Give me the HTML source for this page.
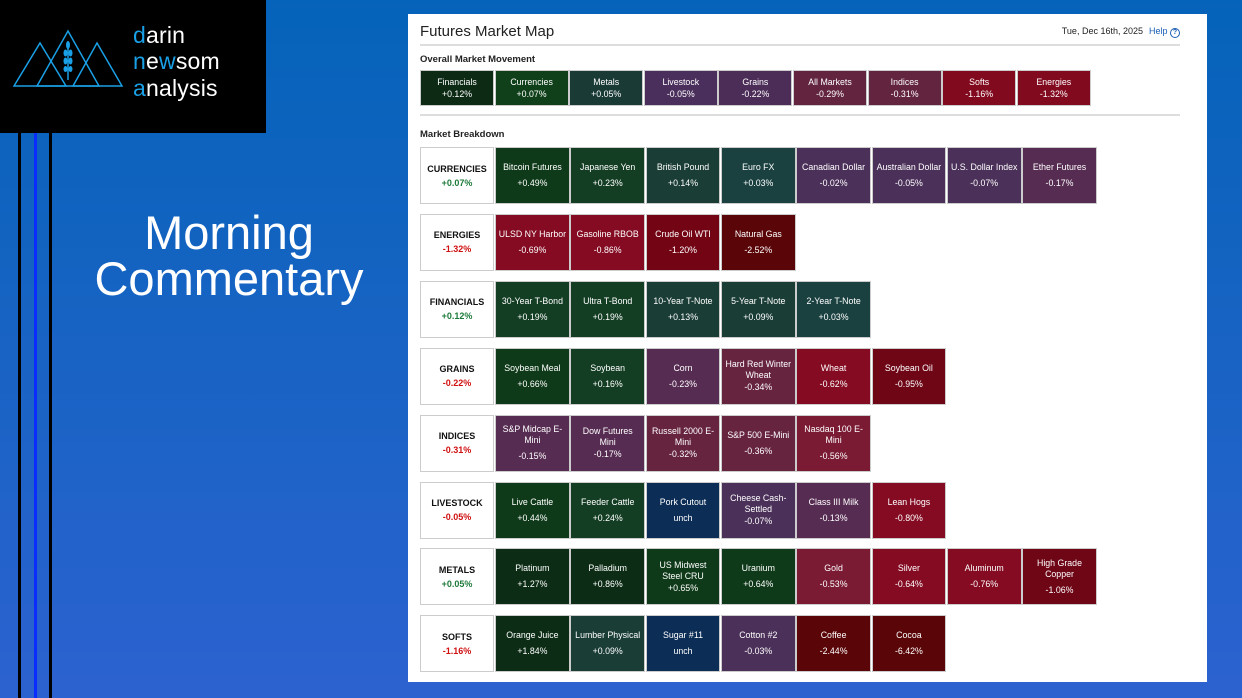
<!DOCTYPE html>
<html><head><meta charset="utf-8">
<style>
*{box-sizing:border-box;margin:0;padding:0}
body{width:1242px;height:698px;overflow:hidden;background:linear-gradient(180deg,#0563b9 0%,#1c63c6 60%,#2c62d0 100%);font-family:"Liberation Sans",sans-serif;position:relative}
#logo{position:absolute;left:0;top:0;width:266px;height:133px;background:#000}
.lt{position:absolute;left:133px;color:#fff;font-size:23px;font-weight:300;letter-spacing:0.2px}
.lt b{color:#1aa0e6;font-weight:300}
.vl{position:absolute;top:133px;height:565px;width:3px}
#mc{position:absolute;left:54px;top:210px;width:350px;text-align:center;color:#fff;font-size:47px;line-height:46px}
#panel{position:absolute;left:408px;top:14px;width:799px;height:668px;background:#fff}
#title{position:absolute;left:12px;top:9px;font-size:15px;color:#222}
#date{position:absolute;right:64px;top:12px;font-size:9px;color:#222;white-space:nowrap}
#help{position:absolute;left:741px;top:12px;font-size:9px;color:#1a5fb4;white-space:nowrap}
.hr{position:absolute;left:12px;width:760px;height:2px;background:#ddd}
.sec{position:absolute;left:12px;font-size:9.5px;font-weight:bold;color:#222}
.tile{position:absolute;border:1px solid #ccc;color:#fff;font-size:8.8px;text-align:center;display:flex;flex-direction:column;justify-content:center;align-items:center;line-height:11px;padding:0 1px}
.lab{position:absolute;border:1px solid #ccc;background:#fff;text-align:center;display:flex;flex-direction:column;justify-content:center;font-size:9px;font-weight:bold;line-height:14px;color:#111}
</style></head><body>
<div id="logo">
<svg width="130" height="133" style="position:absolute;left:0;top:0">
<g fill="none" stroke="#1aa0e6" stroke-width="1.5">
<polygon points="14,86 40,43 66,86"/><polygon points="37,86 68,31 99,86"/><polygon points="73,86 97,43 122,86"/>
<line x1="68" y1="42" x2="68" y2="80"/></g>
<g fill="#1aa0e6"><ellipse cx="68" cy="45" rx="2" ry="4"/><ellipse cx="65.5" cy="53" rx="2" ry="3.5"/><ellipse cx="70.5" cy="53" rx="2" ry="3.5"/><ellipse cx="65.5" cy="61" rx="2" ry="3.5"/><ellipse cx="70.5" cy="61" rx="2" ry="3.5"/><ellipse cx="65.5" cy="69" rx="2" ry="3"/><ellipse cx="70.5" cy="69" rx="2" ry="3"/></g>
</svg>
<div class="lt" style="top:22px"><b>d</b>arin</div>
<div class="lt" style="top:48px"><b>n</b>e<b>w</b>som</div>
<div class="lt" style="top:75px"><b>a</b>nalysis</div>
</div>
<div class="vl" style="left:18px;background:#000"></div>
<div class="vl" style="left:34px;background:#0a2cff"></div>
<div class="vl" style="left:49px;background:#000"></div>
<div id="mc">Morning<br>Commentary</div>
<div id="panel">
<div id="title">Futures Market Map</div>
<div id="date">Tue, Dec 16th, 2025</div>
<div id="help">Help <span style="display:inline-block;width:10px;height:10px;border:1.3px solid #1a5fb4;border-radius:50%;font-size:7px;line-height:8px;text-align:center;font-weight:bold">?</span></div>
<div class="hr" style="top:30px"></div>
<div class="sec" style="top:40px">Overall Market Movement</div>
<div class="hr" style="top:100px"></div>
<div class="sec" style="top:115px">Market Breakdown</div>
</div>
<script>
const overallNames=["Financials","Currencies","Metals","Livestock","Grains","All Markets","Indices","Softs","Energies"];
const overallValues=[0.12,0.07,0.05,-0.05,-0.22,-0.29,-0.31,-1.16,-1.32];
const groupNames=["CURRENCIES","ENERGIES","FINANCIALS","GRAINS","INDICES","LIVESTOCK","METALS","SOFTS"];
const groupValues=[0.07,-1.32,0.12,-0.22,-0.31,-0.05,0.05,-1.16];
const itemNames=[
["Bitcoin Futures","Japanese Yen","British Pound","Euro FX","Canadian Dollar","Australian Dollar","U.S. Dollar Index","Ether Futures"],
["ULSD NY Harbor","Gasoline RBOB","Crude Oil WTI","Natural Gas"],
["30-Year T-Bond","Ultra T-Bond","10-Year T-Note","5-Year T-Note","2-Year T-Note"],
["Soybean Meal","Soybean","Corn","Hard Red Winter Wheat","Wheat","Soybean Oil"],
["S&P Midcap E-Mini","Dow Futures Mini","Russell 2000 E-Mini","S&P 500 E-Mini","Nasdaq 100 E-Mini"],
["Live Cattle","Feeder Cattle","Pork Cutout","Cheese Cash-Settled","Class III Milk","Lean Hogs"],
["Platinum","Palladium","US Midwest Steel CRU","Uranium","Gold","Silver","Aluminum","High Grade Copper"],
["Orange Juice","Lumber Physical","Sugar #11","Cotton #2","Coffee","Cocoa"]];
const itemValues=[
[0.49,0.23,0.14,0.03,-0.02,-0.05,-0.07,-0.17],
[-0.69,-0.86,-1.20,-2.52],
[0.19,0.19,0.13,0.09,0.03],
[0.66,0.16,-0.23,-0.34,-0.62,-0.95],
[-0.15,-0.17,-0.32,-0.36,-0.56],
[0.44,0.24,0,-0.07,-0.13,-0.80],
[1.27,0.86,0.65,0.64,-0.53,-0.64,-0.76,-1.06],
[1.84,0.09,0,-0.03,-2.44,-6.42]];
function color(v){
 if(v===0)return"#0c2d55";
 if(v>0){if(v<=0.05)return"#1a4040";if(v<=0.15)return"#1a3d35";if(v<=0.3)return"#143e24";if(v<=0.7)return"#0f3a19";return"#0c2c15";}
 if(v>=-0.08)return"#4b3059";if(v>=-0.25)return"#572c52";if(v>=-0.4)return"#66243f";if(v>=-0.6)return"#7a1a33";if(v>=-0.9)return"#840b22";if(v>=-1.1)return"#6e0616";if(v>=-1.5)return"#720414";return"#5a0608";}
function colorOverall(v){
 if(v>=0.1)return"#0c2a14";if(v>=0.06)return"#0f401a";if(v>0)return"#1a3a36";
 if(v>=-0.1)return"#4a2f5c";if(v>=-0.25)return"#4c2d58";if(v>=-0.35)return"#63243f";return"#820a1e";}
function fmt(v){return v===0?"unch":(v>0?"+":"")+v.toFixed(2)+"%";}
const panel=document.getElementById('panel');
function tile(x,y,w,h,name,v,bg){
 const d=document.createElement('div');
 d.className='tile';
 
 
 d.style.cssText=`left:${x}px;top:${y}px;width:${w}px;height:${h}px;background:${bg}`;
 const wraps=name.length>17||name==="Dow Futures Mini";
 const extra=(wraps||h<40)?'<div style="height:1px"></div>':'<div style="height:5px"></div>';
 const mw=name==="US Midwest Steel CRU"?'max-width:58px;':(name==="Dow Futures Mini"?'max-width:58px;':'');
 d.innerHTML=`<div style="${mw}">${name.replace(/&/g,'&amp;')}</div>${extra}<div>${fmt(v)}</div>`;
 panel.appendChild(d);
}
const ow=74.6;
overallNames.forEach((n,i)=>tile(12+i*ow,56,ow-0.6,36,n,overallValues[i],colorOverall(overallValues[i])));
const rowTop=133,rowPitch=66.9,tw=75.3;
groupNames.forEach((g,r)=>{
 const y=rowTop+r*rowPitch;
 const l=document.createElement('div');
 l.className='lab';
 
 
 l.style.cssText=`left:12px;top:${y}px;width:74px;height:57px`;
 const gv=groupValues[r];
 l.innerHTML=`<div>${g}</div><div style="color:${gv>=0?'#1c7a3a':'#d01010'};font-size:9px">${fmt(gv)}</div>`;
 panel.appendChild(l);
 itemNames[r].forEach((n,i)=>tile(87+i*tw,y,tw-0.5,57,n,itemValues[r][i],color(itemValues[r][i])));
});
</script>
</body></html>
